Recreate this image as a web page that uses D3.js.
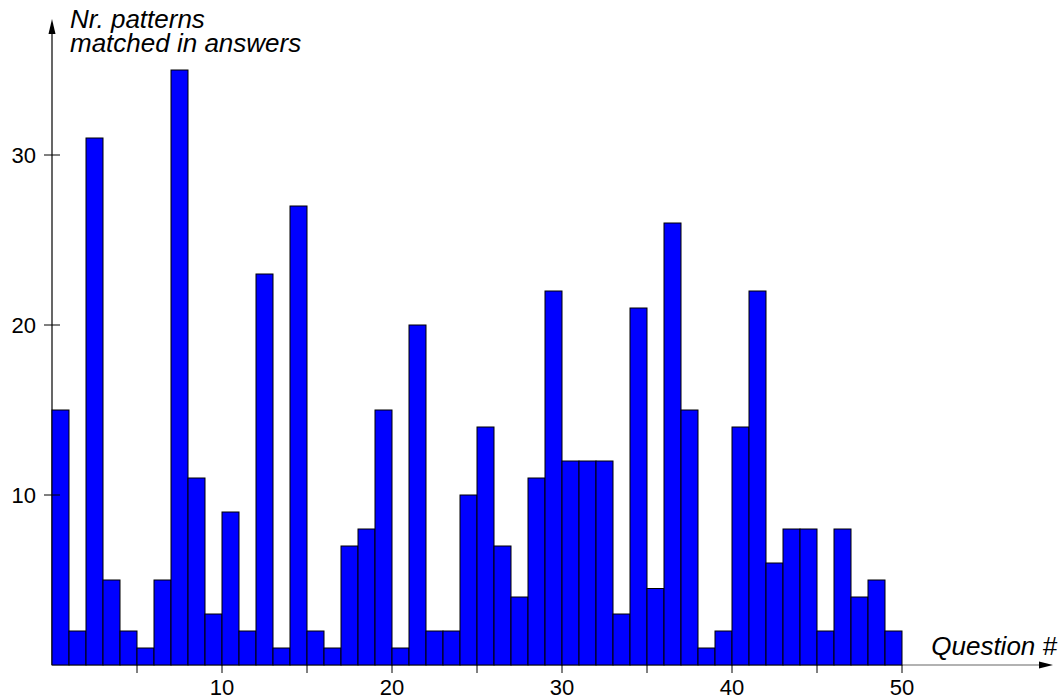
<!DOCTYPE html>
<html>
<head>
<meta charset="utf-8">
<script src="https://cdn.jsdelivr.net/npm/d3@7"></script>
<style>
  body { margin: 0; background: #fff; }
  text { font-family: "Liberation Sans", Arial, sans-serif; fill: #000; }
</style>
</head>
<body>
<div id="chart"></div>
<script>
"use strict";

// values, question 1..50
var questions = d3.range(1, 51);
var matched = [15, 2, 31, 5, 2, 1, 5, 35, 11, 3,
               9, 2, 23, 1, 27, 2, 1, 7, 8, 15,
               1, 20, 2, 2, 10, 14, 7, 4, 11, 22,
               12, 12, 12, 3, 21, 4.5, 26, 15, 1, 2,
               14, 22, 6, 8, 8, 2, 8, 4, 5, 2];
var xTicks = [5, 10, 15, 20, 25, 30, 35, 40, 45, 50];
var xTickLabels = ["", "10", "", "20", "", "30", "", "40", "", "50"];
var yTicks = [10, 20, 30];

var svg_dx = 1060, svg_dy = 700;
var x = d3.scaleLinear().domain([0, 50]).range([52, 902]),
    y = d3.scaleLinear().domain([0, 35]).range([665, 70]);

var svg = d3.select("#chart")
    .append("svg")
    .attr("width", svg_dx)
    .attr("height", svg_dy);

// x axis line with arrow
svg.append("line")
    .attr("x1", x(0)).attr("x2", 1046)
    .attr("y1", y(0)).attr("y2", y(0))
    .attr("stroke", "#666").attr("stroke-width", 1.2);
svg.append("path")
    .attr("d", "M1053," + y(0) + "L1039," + (y(0) - 3.5) + "L1039," + (y(0) + 3.5) + "Z")
    .attr("fill", "#000");

// y axis line with arrow
svg.append("line")
    .attr("x1", x(0)).attr("x2", x(0))
    .attr("y1", y(0)).attr("y2", 30)
    .attr("stroke", "#000").attr("stroke-width", 1.2);
svg.append("path")
    .attr("d", "M" + x(0) + ",19L" + (x(0) - 3.5) + ",34L" + (x(0) + 3.5) + ",34Z")
    .attr("fill", "#000");

// bars
svg.append("g")
    .selectAll("rect")
    .data(questions)
    .enter()
    .append("rect")
    .attr("x", d => x(d - 1))
    .attr("width", d => x(d) - x(d - 1))
    .attr("y", (d, i) => y(matched[i]))
    .attr("height", (d, i) => y(0) - y(matched[i]))
    .attr("fill", "#0000ff")
    .attr("stroke", "#000")
    .attr("stroke-width", 1);

// x ticks
var xt = svg.append("g");
xt.selectAll("line")
    .data(xTicks)
    .enter()
    .append("line")
    .attr("x1", d => x(d)).attr("x2", d => x(d))
    .attr("y1", y(0)).attr("y2", y(0) + 8)
    .attr("stroke", "#000");
xt.selectAll("text")
    .data(xTicks)
    .enter()
    .append("text")
    .attr("x", d => x(d))
    .attr("y", 695)
    .attr("text-anchor", "middle")
    .style("font-size", "22px")
    .text((d, i) => xTickLabels[i]);

// y ticks
var yt = svg.append("g");
yt.selectAll("line")
    .data(yTicks)
    .enter()
    .append("line")
    .attr("x1", x(0) - 8).attr("x2", x(0) + 8)
    .attr("y1", d => y(d)).attr("y2", d => y(d))
    .attr("stroke", "#000");
yt.selectAll("text")
    .data(yTicks)
    .enter()
    .append("text")
    .attr("x", 36)
    .attr("y", d => y(d))
    .attr("dy", "0.36em")
    .attr("text-anchor", "end")
    .style("font-size", "22px")
    .text(d => d);

// axis titles
var ytitle = svg.append("text")
    .style("font-size", "26px")
    .style("font-style", "italic");
ytitle.append("tspan").attr("x", 70).attr("y", 28).text("Nr. patterns");
ytitle.append("tspan").attr("x", 70).attr("y", 52).text("matched in answers");

svg.append("text")
    .attr("x", 1057)
    .attr("y", 655)
    .attr("text-anchor", "end")
    .style("font-size", "26px")
    .style("font-style", "italic")
    .text("Question #");
</script>
</body>
</html>
